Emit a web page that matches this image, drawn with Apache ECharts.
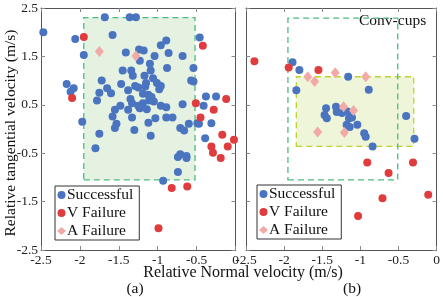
<!DOCTYPE html>
<html><head><meta charset="utf-8">
<script src="https://cdn.jsdelivr.net/npm/echarts@6/dist/echarts.min.js"></script>
<style>html,body{margin:0;padding:0;background:#fff}#c{width:443px;height:297px}</style>
</head><body><div id="c"></div>
<script>
// ---- data ----
const xTicks = [-2.5, -2, -1.5, -1, -0.5, 0];
const yTicks = [-2.5, -1.5, -0.5, 0.5, 1.5, 2.5];
const seriesNames = ['Successful', 'V Failure', 'A Failure'];

// panel (a)
const aSuccess = [
[-2.47,2.00],[-1.68,2.31],[-1.36,2.31],[-1.28,2.31],[-2.06,1.86],[-1.58,1.94],[-0.46,1.89],[-0.89,1.83],[-0.96,1.73],[-1.95,1.53],
[-1.41,1.58],[-1.24,1.64],[-1.18,1.62],[-1.23,1.41],[-1.04,1.51],[-0.86,1.57],[-0.68,1.51],[-1.10,1.35],[-0.88,1.26],[-0.54,1.26],
[-1.45,1.21],[-1.34,1.21],[-1.09,1.21],[-1.32,1.10],[-1.17,1.10],[-1.06,1.05],[-1.72,1.00],[-0.57,1.00],[-0.54,0.98],[-2.17,0.93],
[-2.08,0.84],[-2.12,0.77],[-1.75,0.75],[-1.65,0.84],[-1.60,0.74],[-1.47,0.93],[-1.38,0.80],[-1.29,0.89],[-1.25,0.86],[-1.16,0.88],
[-1.15,0.95],[-1.01,0.95],[-0.98,0.82],[-0.96,0.89],[-1.19,0.73],[-1.12,0.71],[-1.35,0.62],[-1.78,0.59],[-1.48,0.48],[-1.33,0.53],
[-1.25,0.48],[-1.19,0.53],[-1.11,0.59],[-1.08,0.66],[-1.05,0.57],[-0.96,0.48],[-0.89,0.45],[-0.68,0.51],[-1.55,0.40],[-1.58,0.26],
[-1.38,0.40],[-1.33,0.24],[-1.23,0.43],[-1.14,0.41],[-1.03,0.22],[-0.89,0.24],[-0.81,0.24],[-1.12,0.13],[-1.53,0.11],[-1.55,0.02],
[-1.97,0.15],[-1.30,-0.02],[-0.71,0.02],[-0.66,-0.03],[-0.60,0.11],[-1.75,-0.10],[-1.09,-0.14],[-1.80,-0.40],[-0.38,0.67],[-0.25,0.67],
[-0.41,0.48],[-0.31,0.12],[-0.47,0.11],[-0.49,0.12],[-0.39,-0.19],[-0.71,-0.52],[-0.74,-0.58],[-0.63,-0.56],[-0.63,-0.60],[-0.74,-0.89],
[-0.93,-1.07]
];
const aVFail = [
[-1.95,1.90],[-2.10,0.64],[-0.42,1.72],[-0.51,0.53],[-0.12,0.62],[-0.28,0.40],[-0.45,0.24],[-0.17,-0.12],[-0.02,-0.22],[-0.10,-0.36],
[-0.31,-0.36],[-0.29,-0.49],[-0.19,-0.60],[-0.82,-1.22],[-0.62,-1.19],[-0.99,-2.05]
];
const aAFail = [[-1.75,1.60],[-1.28,1.51]];
const aRegion = [[-1.95,-1.05],[-0.52,2.30]];

// panel (b)
const bSuccess = [
[-1.89,1.38],[-1.80,1.22],[-1.84,0.80],[-1.16,1.08],[-0.89,0.81],[-1.45,0.43],[-1.47,0.29],[-1.44,0.22],[-1.32,0.46],[-1.31,0.35],
[-1.24,0.33],[-1.17,0.36],[-1.15,0.22],[-1.11,0.24],[-1.18,0.09],[-1.14,0.04],[-1.04,0.09],[-0.95,-0.09],[-0.93,-0.16],[-0.84,-0.36],
[-0.40,0.27],[-0.29,-0.20]
];
const bVFail = [
[-2.39,1.40],[-1.94,1.27],[-1.55,1.22],[-0.91,-0.69],[-0.63,-0.91],[-0.31,-0.69],[-0.71,-1.43],[-0.11,-1.36],[-1.03,-1.80]
];
const bAFail = [
[-1.69,1.08],[-1.60,0.98],[-1.33,1.16],[-0.93,1.08],[-1.22,0.46],[-1.09,0.38],[-1.56,-0.06],[-1.21,-0.07]
];
const bOuterRegion = [[-1.95,-1.05],[-0.51,2.29]];
const bInnerRegion = [[-1.84,-0.36],[-0.30,1.08]];

// ---- chart ----
const FONT = 'Liberation Serif';
const C_BLUE = '#4a74bf', C_RED = '#e03b3d', C_PINK = '#f2aaa6';
const AX = '#555';

function xAxes(gi) {
  const base = {type:'value', gridIndex:gi, min:xTicks[0], max:xTicks[xTicks.length-1], interval:0.5,
    splitLine:{show:false}, axisLine:{show:true,onZero:false,lineStyle:{color:AX,width:1}},
    axisTick:{show:true,inside:true,length:4,lineStyle:{color:'#888'}}};
  return [
    Object.assign({}, base, {position:'bottom', axisLabel:{show:true,color:'#222',fontFamily:FONT,fontSize:13.5,margin:3,
      formatter:v=>String(Math.round(v*10)/10)}}),
    Object.assign({}, base, {position:'top', axisLabel:{show:false}})
  ];
}
function yAxes(gi, showLabels) {
  const base = {type:'value', gridIndex:gi, min:yTicks[0], max:yTicks[yTicks.length-1], interval:1,
    splitLine:{show:false}, axisLine:{show:true,onZero:false,lineStyle:{color:AX,width:1}},
    axisTick:{show:true,inside:true,length:4,lineStyle:{color:'#888'}}};
  return [
    Object.assign({}, base, {position:'left', axisLabel:{show:showLabels,color:'#222',fontFamily:FONT,fontSize:13.5,margin:3}}),
    Object.assign({}, base, {position:'right', axisLabel:{show:false}})
  ];
}
function rect(r, fill, border) {
  return [{coord:[r[0][0], r[0][1]], itemStyle:{color:fill, borderColor:border, borderWidth:1.3, borderType:[6,4]}},
          {coord:[r[1][0], r[1][1]]}];
}
function pts(name, data, xi, yi, color, symbol, size, z) {
  return {name, type:'scatter', xAxisIndex:xi, yAxisIndex:yi, data, symbol, symbolSize:size, z,
    itemStyle:{color, opacity:1}, emphasis:{disabled:true}, silent:true};
}
const legendBase = {orient:'vertical', backgroundColor:'#fff', borderColor:'#333', borderWidth:1,
  padding:[1,6,1,2], itemGap:2, itemWidth:9, itemHeight:8, textStyle:{fontFamily:FONT,fontSize:15.5,color:'#111',padding:[0,0,0,-4]},
  selectedMode:false,
  data:[{name:seriesNames[0],icon:'circle'},{name:seriesNames[1],icon:'circle'},{name:seriesNames[2],icon:'diamond'}]};

const option = {
  animation:false,
  grid:[{left:41, top:8, width:194.5, height:242}, {left:246, top:8, width:191, height:242}],
  xAxis:[...xAxes(0), ...xAxes(1)],
  yAxis:[...yAxes(0,true), ...yAxes(1,false)],
  legend:[Object.assign({}, legendBase, {left:55, top:186}), Object.assign({}, legendBase, {left:257, top:185})],
  series:[
    {type:'scatter', xAxisIndex:0, yAxisIndex:0, data:[], z:1, silent:true,
      markArea:{silent:true, data:[rect(aRegion,'#e5f2e2','#4dbb7e')]}},
    pts(seriesNames[0], aSuccess, 0, 0, C_BLUE, 'circle', 8, 3),
    pts(seriesNames[1], aVFail, 0, 0, C_RED, 'circle', 8, 3),
    pts(seriesNames[2], aAFail, 0, 0, C_PINK, 'diamond', [9,11], 3),
    {type:'scatter', xAxisIndex:2, yAxisIndex:2, data:[], z:1, silent:true,
      markArea:{silent:true, data:[rect(bInnerRegion,'#eff5d9','#bcd42e'), rect(bOuterRegion,'rgba(0,0,0,0)','#4dbb7e')]}},
    pts(seriesNames[0], bSuccess, 2, 2, C_BLUE, 'circle', 8, 3),
    pts(seriesNames[1], bVFail, 2, 2, C_RED, 'circle', 8, 3),
    pts(seriesNames[2], bAFail, 2, 2, C_PINK, 'diamond', [9,11], 3)
  ],
  graphic:[
    {type:'text', left:359, top:13, style:{text:'Conv-cups', font:'15.5px "Liberation Serif"', fill:'#111'}},
    {type:'text', x:243, y:273, style:{text:'Relative Normal velocity (m/s)', font:'16px "Liberation Serif"', fill:'#111', align:'center', verticalAlign:'middle'}},
    {type:'text', x:11, y:133, rotation:Math.PI/2, style:{text:'Relative tangential velocity (m/s)', font:'15.5px "Liberation Serif"', fill:'#111', align:'center', verticalAlign:'middle'}},
    {type:'text', x:135, y:289, style:{text:'(a)', font:'15.5px "Liberation Serif"', fill:'#111', align:'center', verticalAlign:'middle'}},
    {type:'text', x:352, y:289, style:{text:'(b)', font:'15.5px "Liberation Serif"', fill:'#111', align:'center', verticalAlign:'middle'}}
  ]
};
const chart = echarts.init(document.getElementById('c'), null, {renderer:'canvas'});
chart.setOption(option);
</script></body></html>
